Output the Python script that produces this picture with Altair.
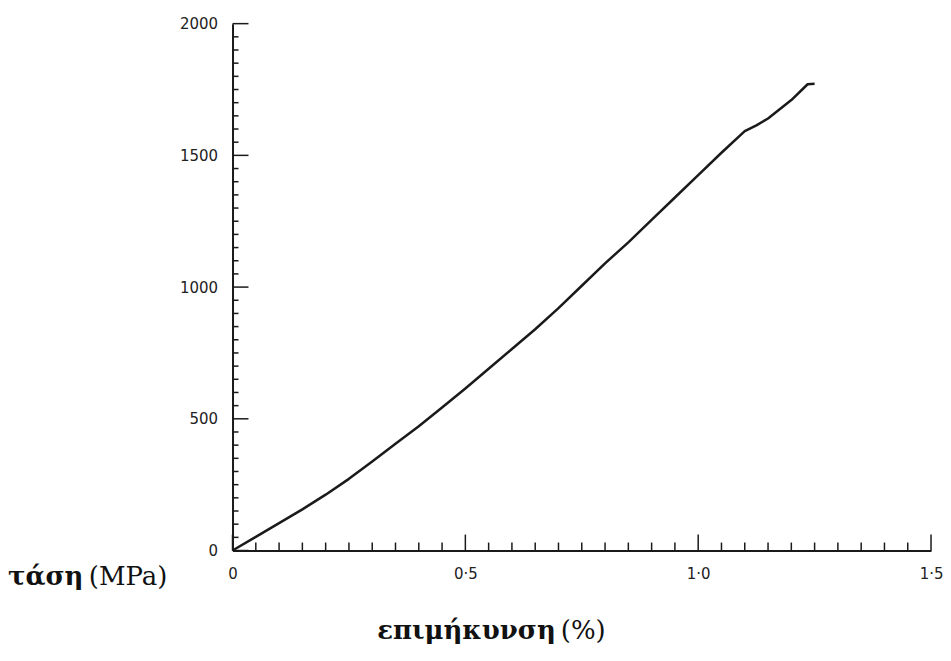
import altair as alt
import pandas as pd

# Stress-strain curve
strain = [0.0, 0.05, 0.10, 0.15, 0.20, 0.25, 0.30, 0.35, 0.40, 0.45, 0.50, 0.55,
          0.60, 0.65, 0.70, 0.75, 0.80, 0.85, 0.90, 0.95, 1.00, 1.05, 1.10, 1.125,
          1.15, 1.20, 1.235, 1.25]
stress = [0, 52, 104, 156, 212, 272, 338, 405, 472, 543, 615, 690,
          765, 840, 920, 1005, 1090, 1170, 1255, 1340, 1425, 1510, 1592, 1614,
          1640, 1710, 1770, 1772]

x_major = [0.0, 0.5, 1.0, 1.5]
x_minor = [round(0.05 * i, 2) for i in range(31) if i % 10 != 0]
y_major = [0, 500, 1000, 1500, 2000]
y_minor = [50 * i for i in range(41) if i % 10 != 0]

W, H = 700, 528
INK = "#1a1a1a"

df = pd.DataFrame({"strain": strain, "stress": stress})

xscale = alt.Scale(domain=[0, 1.5], nice=False, zero=True)
yscale = alt.Scale(domain=[0, 2000], nice=False, zero=True)

xaxis = alt.Axis(values=x_major, ticks=False, grid=False, title=None,
                 labelExpr="datum.value == 0 ? '0' : replace(format(datum.value, '.1f'), '.', '·')",
                 labelPadding=16, labelFont="DejaVu Sans", labelFontSize=15,
                 labelColor="#222", domainColor=INK, domainWidth=2, labelFlush=False)
yaxis = alt.Axis(values=y_major, ticks=False, grid=False, title=None, format="d",
                 labelPadding=15, labelFont="DejaVu Sans", labelFontSize=15,
                 labelColor="#222", domainColor=INK, domainWidth=2, labelFlush=False)

line = alt.Chart(df).mark_line(color=INK, strokeWidth=2.5, strokeJoin="round").encode(
    x=alt.X("strain:Q", scale=xscale, axis=xaxis),
    y=alt.Y("stress:Q", scale=yscale, axis=yaxis),
)

xmin_df = pd.DataFrame({"strain": x_minor})
xmaj_df = pd.DataFrame({"strain": x_major})
ymin_df = pd.DataFrame({"stress": y_minor})
ymaj_df = pd.DataFrame({"stress": y_major})

xt_minor = alt.Chart(xmin_df).mark_rule(color=INK, strokeWidth=1.5).encode(
    x=alt.X("strain:Q", scale=xscale, axis=xaxis), y=alt.value(H - 8), y2=alt.value(H))
xt_major = alt.Chart(xmaj_df).mark_rule(color=INK, strokeWidth=1.5).encode(
    x=alt.X("strain:Q", scale=xscale, axis=xaxis), y=alt.value(H - 16), y2=alt.value(H))
yt_minor = alt.Chart(ymin_df).mark_rule(color=INK, strokeWidth=1.5).encode(
    y=alt.Y("stress:Q", scale=yscale, axis=yaxis), x=alt.value(0), x2=alt.value(6))
yt_major = alt.Chart(ymaj_df).mark_rule(color=INK, strokeWidth=1.5).encode(
    y=alt.Y("stress:Q", scale=yscale, axis=yaxis), x=alt.value(0), x2=alt.value(16))

def label(text, x, y, bold):
    return alt.Chart(pd.DataFrame({"t": [text]})).mark_text(
        align="left", baseline="alphabetic", font="DejaVu Serif", fontSize=26,
        fontWeight="bold" if bold else "normal", color="#111"
    ).encode(text="t:N", x=alt.value(x), y=alt.value(y))

titles = [
    label("τάση", -225, 563, True),
    label("(MPa)", -144, 563, False),
    label("επιμήκυνση", 145, 617, True),
    label("(%)", 329, 617, False),
]

chart = alt.layer(line, xt_minor, xt_major, yt_minor, yt_major, *titles).properties(
    width=W, height=H,
    padding={"left": 225, "top": 15, "right": 12, "bottom": 96},
    autosize="none",
).configure_view(stroke=None)

chart.save("out.html", embed_options={"renderer": "svg", "actions": False})
